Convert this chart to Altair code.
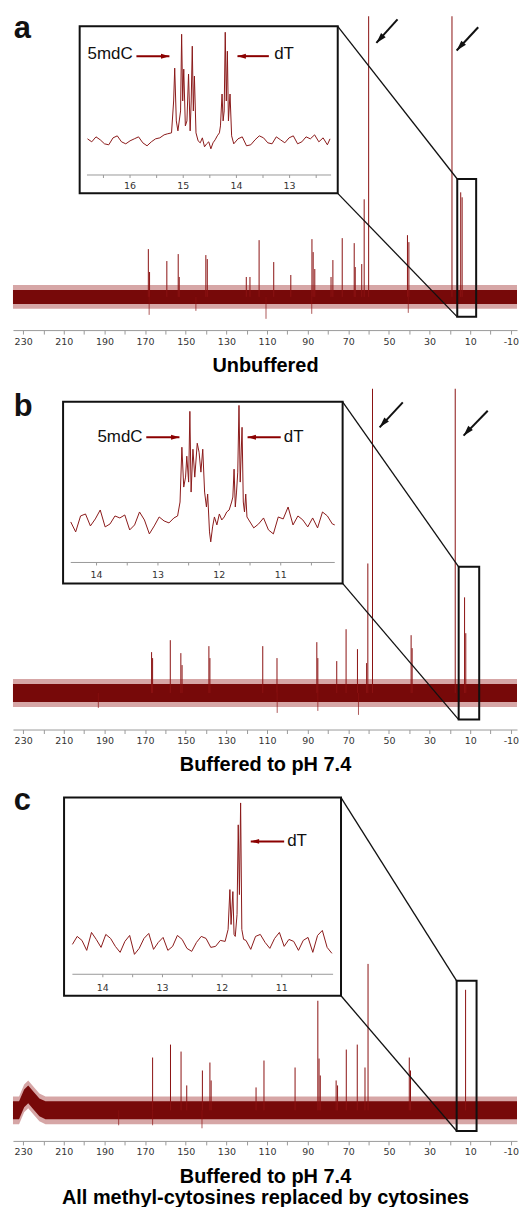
import altair as alt
import pandas as pd

# ====================== DATA ======================
main_ticks = [230, 220, 210, 200, 190, 180, 170, 160, 150, 140, 130, 120, 110,
              100, 90, 80, 70, 60, 50, 40, 30, 20, 10, 0, -10]

titles = {
    "a": "Unbuffered",
    "b": "Buffered to pH 7.4",
    "c": ["Buffered to pH 7.4", "All methyl-cytosines replaced by cytosines"],
}
letters = {"a": "a", "b": "b", "c": "c"}

# ---- panel a (unbuffered) main spectrum: peak ppm / intensity (a.u.)
a_peak_ppm = [168.4, 167.8, 159.3, 153.7, 153.2, 140.1, 139.4, 120.2, 118.4, 113.9,
              106.7, 98.3, 87.9, 87.3, 86.5, 78.5, 77.6, 73.0, 67.1, 66.6, 63.4,
              62.2, 60.0, 40.9, 40.2, 19.0, 14.7, 14.0]
a_peak_int = [48, 25, 36, 43, 20, 42, 38, 20, 20, 57,
              35, 22, 58, 45, 28, 20, 37, 59, 54, 30, 33,
              98, 400, 62, 55, 400, 105, 100]
a_dip_ppm = [168.0, 145.0, 110.5, 88.0, 40.5]
a_dip_int = [-18, -14, -22, -17, -16]
a_base_ppm = [235, -13]
a_base_int = [0, 0]
a_noise = [7, 12]

# ---- panel b (buffered) main spectrum
b_peak_ppm = [166.8, 166.3, 157.6, 152.4, 151.8, 138.6, 138.1, 112.1, 105.1, 85.5,
              85.0, 75.7, 71.1, 65.5, 61.0, 60.4, 58.1, 39.1, 38.6, 17.4, 12.8, 12.2]
b_peak_int = [41, 35, 53, 40, 28, 47, 35, 47, 35, 51,
              35, 32, 64, 44, 30, 130, 400, 58, 45, 400, 96, 60]
b_dip_ppm = [193.0, 105.0, 85.0, 65.0]
b_dip_int = [-15, -20, -18, -22]
b_base_ppm = [235, -13]
b_base_int = [0, 0]
b_noise = [9, 14]

# ---- panel c (buffered, no methyl-cytosines) main spectrum
c_peak_ppm = [166.3, 157.5, 152.3, 149.5, 141.8, 138.1, 137.5, 115.4, 111.5, 96.2,
              85.0, 84.4, 83.8, 76.0, 75.3, 71.0, 65.6, 61.8, 60.3, 40.0, 39.4, 12.3]
c_peak_int = [53, 66, 59, 25, 40, 48, 30, 23, 50, 43,
              110, 52, 35, 30, 25, 61, 66, 43, 147, 53, 40, 121]
c_dip_ppm = [183.0, 166.3, 142.0]
c_dip_int = [-15, -15, -18]
c_base_ppm = [235, 232, 229.5, 227.5, 225, 222, 219, -13]
c_base_int = [0, 0, 12, 16, 10, 3, 0, 0]
c_noise = [9, 14]

# ---- insets (zoomed 5mdC / dT methyl region): ppm / intensity
ia_ppm = [16.80, 16.72, 16.64, 16.56, 16.48, 16.40, 16.32, 16.24, 16.16, 16.08,
          16.00, 15.92, 15.84, 15.76, 15.68, 15.60, 15.52, 15.44, 15.36, 15.30,
          15.22, 15.18, 15.16, 15.13, 15.10, 15.05, 15.03, 15.01, 14.99, 14.96,
          14.93, 14.90, 14.87, 14.85, 14.83, 14.81, 14.79, 14.76, 14.72,
          14.68, 14.64, 14.60, 14.56, 14.52, 14.48, 14.44, 14.40, 14.36, 14.32,
          14.30, 14.27, 14.25, 14.23, 14.21, 14.19, 14.17, 14.15, 14.12, 14.09,
          14.05, 13.97, 13.89, 13.81, 13.73, 13.65, 13.57, 13.49, 13.41, 13.33,
          13.25, 13.17, 13.09, 13.01, 12.93, 12.85, 12.77, 12.69, 12.61, 12.53,
          12.45, 12.37, 12.29, 12.24]
ia_int = [2, -1, 4, 1, -3, -4, 3, 5, -1, -3,
          0, 2, 4, -2, -5, -1, 2, 3, 6, 7,
          8, 40, 73, 20, 10, 30, 107, 40, 72, 15,
          20, 67, 10, 40, 95, 30, 65, 8, 0,
          -2, 3, -6, -3, -1, -8, -2, 1, 5, 8,
          15, 47, 20, 30, 109, 40, 90, 20, 47, 5,
          -3, 2, 4, -5, -4, 1, 5, 3, -2, -3,
          4, 1, -2, 3, 5, -3, -1, 4, 2, 6,
          -1, 3, -4, 2]
ia_ticks = [16.5, 16.0, 15.5, 15.0, 14.5, 14.0, 13.5, 13.0, 12.5]
ia_labels = [16, 15, 14, 13]
ia_tags = ["5mdC", "dT"]

ib_ppm = [14.42, 14.34, 14.26, 14.18, 14.10, 14.02, 13.94, 13.86, 13.78, 13.70,
          13.62, 13.54, 13.46, 13.38, 13.30, 13.22, 13.14, 13.06, 12.98, 12.90,
          12.82, 12.74, 12.68,
          12.64, 12.61, 12.58, 12.55, 12.53, 12.50, 12.48, 12.46, 12.43, 12.40,
          12.36, 12.33, 12.30, 12.27, 12.24, 12.21, 12.19, 12.16, 12.14, 12.11,
          12.08, 12.04, 12.00, 11.96, 11.92, 11.88, 11.84, 11.80,
          11.78, 11.76, 11.74, 11.72, 11.70, 11.68, 11.66, 11.63, 11.61, 11.59,
          11.57, 11.55,
          11.52, 11.44, 11.36, 11.28, 11.20, 11.12, 11.04, 10.96, 10.88, 10.80,
          10.72, 10.64, 10.56, 10.48, 10.40, 10.32, 10.24, 10.16, 10.12]
ib_int = [0, -10, 6, 8, -4, 3, 12, -5, -2, 6,
          4, 7, -8, -3, 10, 2, -12, -4, 5, 1,
          -1, 4, 6,
          20, 75, 35, 45, 66, 40, 111, 30, 73, 45,
          79, 70, 50, 73, 30, 15, 28, -10, -20, -5,
          5, -3, 8, 2, 5, 10, 12, 20,
          25, 53, 15, 30, 50, 117, 40, 95, 20, 10,
          28, 5,
          2, -6, -2, 4, -8, -12, 5, 3, 15, -3,
          6, 2, -5, 4, -6, 10, 6, -2, -3]
ib_ticks = [14.0, 13.5, 13.0, 12.5, 12.0, 11.5, 11.0, 10.5]
ib_labels = [14, 13, 12, 11]
ib_tags = ["5mdC", "dT"]

ic_ppm = [14.51, 14.43, 14.35, 14.27, 14.19, 14.11, 14.03, 13.95, 13.87, 13.79,
          13.71, 13.63, 13.55, 13.47, 13.39, 13.31, 13.23, 13.15, 13.07, 12.99,
          12.91, 12.83, 12.75, 12.67, 12.59, 12.51, 12.43, 12.35, 12.27, 12.19,
          12.11, 12.03, 11.95,
          11.90, 11.87, 11.85, 11.82, 11.80, 11.78, 11.75, 11.73, 11.71, 11.69,
          11.67, 11.64,
          11.60, 11.52, 11.44, 11.36, 11.28, 11.20, 11.12, 11.04, 10.96, 10.88,
          10.80, 10.72, 10.64, 10.56, 10.48, 10.40, 10.32, 10.24, 10.16]
ic_int = [0, 8, 4, -6, 12, 5, -3, 10, 6, -2,
          -8, 3, 9, -10, -4, 6, 11, -5, 2, 7,
          -6, -2, 9, 5, -4, -7, 2, 8, 6, -3,
          -2, 4, 3,
          15, 55, 20, 53, 10, 8, 30, 120, 50, 142,
          15, 5,
          4, -5, 8, 10, 2, -4, 6, 12, -2, 5,
          3, -6, 4, 7, -8, 9, 14, -3, -9]
ic_ticks = [14.0, 13.5, 13.0, 12.5, 12.0, 11.5, 11.0, 10.5]
ic_labels = [14, 13, 12, 11]
ic_tags = ["dT"]

DATA = {
    "a": dict(pk=(a_peak_ppm, a_peak_int), dip=(a_dip_ppm, a_dip_int),
              base=(a_base_ppm, a_base_int), noise=a_noise,
              ins=(ia_ppm, ia_int), ticks=ia_ticks, labels=ia_labels, tags=ia_tags),
    "b": dict(pk=(b_peak_ppm, b_peak_int), dip=(b_dip_ppm, b_dip_int),
              base=(b_base_ppm, b_base_int), noise=b_noise,
              ins=(ib_ppm, ib_int), ticks=ib_ticks, labels=ib_labels, tags=ib_tags),
    "c": dict(pk=(c_peak_ppm, c_peak_int), dip=(c_dip_ppm, c_dip_int),
              base=(c_base_ppm, c_base_int), noise=c_noise,
              ins=(ic_ppm, ic_int), ticks=ic_ticks, labels=ic_labels, tags=ic_tags),
}

# ====================== LAYOUT (positions / styles) ======================
LAYOUT = {
    "a": dict(height=315, ydom=[-33.3, 281.7], title_pad=10,
              imap=(12.22, 78.48, 26.17), u0=156.7,
              box_i=[16.947, 12.095], box_v=[115.0, -52.7],
              axis_i=[16.81, 12.22], axis_v=-34.3, lab_v=-45.0,
              tag_pos=[(15.95, 86.7, "right"), (13.29, 86.7, "left")],
              tag_arrow=[(15.88, 15.26, 85.0), (13.39, 13.98, 85.0)],
              zoom_ppm=[16.4, 7.1], zoom_u=[118.4, -20.0],
              letter_u=260.0,
              arrows=[(45.8, 278.7, 56.2, 255.0), (6.1, 270.7, 16.7, 247.4)]),
    "b": dict(height=342, ydom=[-36.7, 305.3], title_pad=10,
              imap=(10.12, 76.67, 30.21), u0=171.7,
              box_i=[14.545, 9.992], box_v=[120.6, -61.7],
              axis_i=[14.42, 10.12], axis_v=-40.7, lab_v=-53.4,
              tag_pos=[(13.25, 85.0, "right"), (10.95, 85.0, "left")],
              tag_arrow=[(13.19, 12.65, 85.0), (11.0, 11.54, 85.0)],
              zoom_ppm=[15.7, 5.6], zoom_u=[126.7, -26.7],
              letter_u=278.3,
              arrows=[(43.2, 291.7, 54.6, 266.7), (1.4, 283.3, 13.3, 258.3)]),
    "c": dict(height=354, ydom=[-30.7, 323.3], title_pad=10,
              imap=(10.14, 77.5, 29.35), u0=166.6,
              box_i=[14.65, 10.007], box_v=[147.4, -51.6],
              axis_i=[14.51, 10.14], axis_v=-30.0, lab_v=-43.3,
              tag_pos=[(10.91, 103.4, "left")],
              tag_arrow=[(10.96, 11.52, 103.4)],
              zoom_ppm=[16.7, 6.9], zoom_u=[130.0, -20.7],
              letter_u=301.6,
              arrows=[]),
}

RED = "#720000"
PEAK = "#8b1212"
TRACE = "#8b1a1a"
HEAD = "M0,0L0.62,2.1L-0.62,2.1Z"
LABEL_FONT = "DejaVu Sans"
TEXT_FONT = "Liberation Sans"
W = 506
XDOM = [235, -13]


def build_panel(key):
    d, L = DATA[key], LAYOUT[key]
    XS = alt.Scale(domain=XDOM, nice=False, zero=False)
    YS = alt.Scale(domain=L["ydom"], nice=False, zero=False)
    xax = alt.Axis(values=main_ticks,
                   labelExpr="(datum.value + 1000) % 20 == 10 ? '' + datum.value : ''",
                   title=titles[key], grid=False, domainColor="#9a9a9a",
                   tickColor="#9a9a9a", tickSize=4, labelFont=LABEL_FONT,
                   labelFontSize=9.5, labelColor="#333333", labelPadding=2,
                   labelFlush=False, labelOverlap=False, orient="bottom",
                   titleFont=TEXT_FONT, titleFontSize=20, titleFontWeight="bold",
                   titleColor="#000000", titlePadding=L["title_pad"],
                   titleLineHeight=21)

    def X(f="x"):
        return alt.X(f"{f}:Q", scale=XS, axis=xax)

    def Y(f="y"):
        return alt.Y(f"{f}:Q", scale=YS, axis=None)

    i0, p0, k = L["imap"]
    u0 = L["u0"]

    def mx(i):
        return p0 + (i - i0) * k

    def mu(v):
        return u0 + v

    layers = []
    # baseline noise band
    bp, bi = d["base"]
    core, fringe = d["noise"]
    band = pd.DataFrame({"x": bp, "mid": bi})
    band["lo2"] = band["mid"] - fringe
    band["hi2"] = band["mid"] + fringe
    band["lo1"] = band["mid"] - core
    band["hi1"] = band["mid"] + core
    layers.append(alt.Chart(band).mark_area(color="#a53a3a", opacity=0.45).encode(
        x=X("x"), y=Y("lo2"), y2="hi2"))
    layers.append(alt.Chart(band).mark_area(color=RED, opacity=0.95).encode(
        x=X(), y=Y("lo1"), y2="hi1"))

    # peaks & dips
    pk = pd.DataFrame({"x": d["pk"][0], "h": d["pk"][1], "b": 0})
    layers.append(alt.Chart(pk).mark_rule(color=PEAK, strokeWidth=1, clip=True).encode(
        x=X(), y=Y("b"), y2="h"))
    dp = pd.DataFrame({"x": d["dip"][0], "h": d["dip"][1], "b": 0})
    layers.append(alt.Chart(dp).mark_rule(color=PEAK, strokeWidth=1, opacity=0.7).encode(
        x=X(), y=Y("b"), y2="h"))

    # inset box
    box = pd.DataFrame({"x": [mx(L["box_i"][0])], "x2": [mx(L["box_i"][1])],
                        "y": [mu(L["box_v"][0])], "y2": [mu(L["box_v"][1])]})
    layers.append(alt.Chart(box).mark_rect(fill="white", stroke="#111111", strokeWidth=2).encode(
        x=X(), x2="x2", y=Y(), y2="y2"))

    # inset trace
    ins = pd.DataFrame({"x": [mx(v) for v in d["ins"][0]], "y": [mu(v) for v in d["ins"][1]],
                        "idx": list(range(len(d["ins"][0])))})
    layers.append(alt.Chart(ins).mark_line(color=TRACE, strokeWidth=1).encode(
        x=X(), y=Y(), order="idx:Q"))

    # inset axis
    ax = pd.DataFrame({"x": [mx(L["axis_i"][0])], "x2": [mx(L["axis_i"][1])],
                       "y": [mu(L["axis_v"])]})
    layers.append(alt.Chart(ax).mark_rule(color="#9a9a9a", strokeWidth=1).encode(
        x=X(), x2="x2", y=Y()))
    tk = pd.DataFrame({"x": [mx(v) for v in d["ticks"]], "y": mu(L["axis_v"]),
                       "y2": mu(L["axis_v"] - 3)})
    layers.append(alt.Chart(tk).mark_rule(color="#9a9a9a", strokeWidth=1).encode(
        x=X(), y=Y(), y2="y2"))
    tl = pd.DataFrame({"x": [mx(v) for v in d["labels"]], "y": mu(L["lab_v"]),
                       "t": [str(v) for v in d["labels"]]})
    layers.append(alt.Chart(tl).mark_text(font=LABEL_FONT, fontSize=9.5, color="#333333",
                                          baseline="middle").encode(x=X(), y=Y(), text="t:N"))

    # inset tags with red arrows
    for tag, (ti, tv, al), (a1, a2, av) in zip(d["tags"], L["tag_pos"], L["tag_arrow"]):
        tdf = pd.DataFrame({"x": [mx(ti)], "y": [mu(tv)], "t": [tag]})
        layers.append(alt.Chart(tdf).mark_text(font=TEXT_FONT, fontSize=17, color="#111111",
                                               align=al, baseline="middle").encode(
            x=X(), y=Y(), text="t:N"))
        adf = pd.DataFrame({"x": [mx(a1)], "x2": [mx(a2)], "y": [mu(av)]})
        layers.append(alt.Chart(adf).mark_rule(color="#8b0000", strokeWidth=2).encode(
            x=X(), x2="x2", y=Y()))
        hdf = pd.DataFrame({"x": [mx(a2)], "y": [mu(av)]})
        ang = 90 if a2 < a1 else 270
        layers.append(alt.Chart(hdf).mark_point(shape=HEAD, filled=True, size=64, angle=ang,
                                                color="#8b0000", opacity=1, strokeWidth=0).encode(
            x=X(), y=Y()))

    # zoom box on the main spectrum
    zb = pd.DataFrame({"x": [L["zoom_ppm"][0]], "x2": [L["zoom_ppm"][1]],
                       "y": [L["zoom_u"][0]], "y2": [L["zoom_u"][1]]})
    layers.append(alt.Chart(zb).mark_rect(fillOpacity=0, stroke="#111111", strokeWidth=2).encode(
        x=X(), x2="x2", y=Y(), y2="y2"))

    # connector lines
    bx = mx(L["box_i"][1])
    con = pd.DataFrame({"x": [bx, bx], "y": [mu(L["box_v"][0]), mu(L["box_v"][1])],
                        "x2": [L["zoom_ppm"][0]] * 2, "y2": [L["zoom_u"][0], L["zoom_u"][1]]})
    layers.append(alt.Chart(con).mark_rule(color="#111111", strokeWidth=1.3).encode(
        x=X(), y=Y(), x2="x2", y2="y2"))

    # black arrows pointing to the tall peaks
    if L["arrows"]:
        arr = pd.DataFrame(L["arrows"], columns=["x", "y", "x2", "y2"])
        layers.append(alt.Chart(arr).mark_rule(color="#111111", strokeWidth=2).encode(
            x=X(), y=Y(), x2="x2", y2="y2"))
        hd = pd.DataFrame({"x": arr["x2"], "y": arr["y2"]})
        layers.append(alt.Chart(hd).mark_point(shape=HEAD, filled=True, size=100, angle=222,
                                               color="#111111", opacity=1, strokeWidth=0).encode(
            x=X(), y=Y()))

    # panel letter
    let = pd.DataFrame({"x": [234.6], "y": [L["letter_u"]], "t": [letters[key]]})
    layers.append(alt.Chart(let).mark_text(font=TEXT_FONT, fontSize=31, fontWeight="bold",
                                           color="#111111", align="left",
                                           baseline="alphabetic").encode(
        x=X(), y=Y(), text="t:N"))

    return alt.layer(*layers).properties(width=W, height=L["height"])


chart = alt.vconcat(build_panel("a"), build_panel("b"), build_panel("c"),
                    spacing=59, bounds="flush").properties(
    padding={"left": 5, "top": 2, "right": 0, "bottom": 0}
).configure(background="white").configure_view(strokeWidth=0)

chart.save("out.html", embed_options={"renderer": "svg", "actions": False})
